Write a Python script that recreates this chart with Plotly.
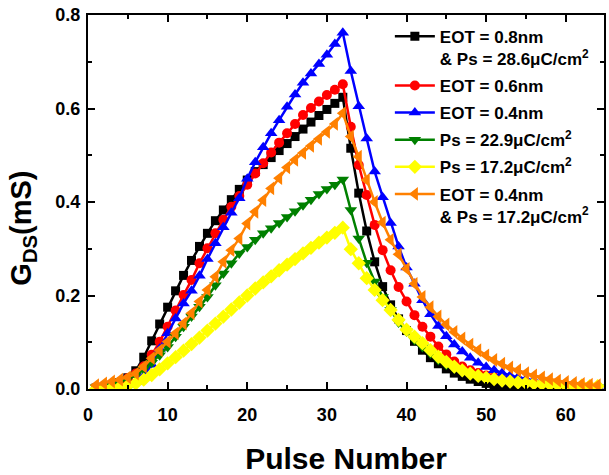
import plotly.graph_objects as go

pulses = list(range(1, 65))

eot08_ps286 = [0.002, 0.004, 0.008, 0.014, 0.024, 0.039, 0.068, 0.103, 0.139, 0.175, 0.21, 0.243,
               0.275, 0.305, 0.333, 0.36, 0.383, 0.405, 0.427, 0.447, 0.465, 0.48, 0.495, 0.51,
               0.525, 0.54, 0.556, 0.571, 0.585, 0.598, 0.611, 0.624,
               0.515, 0.419, 0.338, 0.272, 0.219, 0.18, 0.15, 0.125, 0.102, 0.083, 0.067, 0.054,
               0.043, 0.034, 0.027, 0.021, 0.016, 0.012, 0.009, 0.007, 0.005, 0.004, 0.003, 0.003,
               0.002, 0.002, 0.002, 0.001, 0.001, 0.001, 0.001, 0.001]

eot06 = [0.003, 0.005, 0.009, 0.015, 0.023, 0.033, 0.048, 0.073, 0.101, 0.133, 0.168, 0.201,
         0.233, 0.269, 0.301, 0.333, 0.362, 0.39, 0.413, 0.437, 0.461, 0.483, 0.506, 0.527,
         0.547, 0.567, 0.586, 0.601, 0.615, 0.629, 0.64, 0.652,
         0.561, 0.479, 0.415, 0.351, 0.297, 0.254, 0.218, 0.187, 0.158, 0.133, 0.112, 0.091,
         0.074, 0.059, 0.048, 0.04, 0.034, 0.029, 0.025, 0.021, 0.018, 0.016, 0.014, 0.012,
         0.011, 0.01, 0.009, 0.008, 0.007, 0.006, 0.006, 0.005]

eot04 = [0.0, 0.001, 0.002, 0.004, 0.008, 0.015, 0.028, 0.052, 0.086, 0.119, 0.151, 0.183,
         0.21, 0.242, 0.278, 0.312, 0.346, 0.377, 0.408, 0.45, 0.485, 0.517, 0.547, 0.575,
         0.604, 0.63, 0.655, 0.675, 0.695, 0.715, 0.738, 0.762,
         0.68, 0.605, 0.536, 0.465, 0.41, 0.355, 0.305, 0.26, 0.225, 0.19, 0.16, 0.135,
         0.113, 0.095, 0.08, 0.067, 0.056, 0.047, 0.04, 0.034, 0.029, 0.025, 0.021, 0.018,
         0.016, 0.014, 0.012, 0.011, 0.01, 0.009, 0.008, 0.007]

ps229 = [0.004, 0.007, 0.011, 0.016, 0.022, 0.03, 0.042, 0.056, 0.072, 0.09, 0.112, 0.133,
         0.155, 0.176, 0.197, 0.222, 0.247, 0.269, 0.29, 0.304, 0.319, 0.333, 0.344, 0.355,
         0.368, 0.38, 0.393, 0.405, 0.417, 0.428, 0.437, 0.448,
         0.383, 0.322, 0.27, 0.23, 0.197, 0.169, 0.142, 0.123, 0.105, 0.09, 0.076, 0.062,
         0.052, 0.044, 0.037, 0.031, 0.027, 0.023, 0.02, 0.017, 0.015, 0.013, 0.011, 0.01,
         0.009, 0.008, 0.007, 0.006, 0.006, 0.005, 0.005, 0.004]

ps172 = [0.0, 0.001, 0.002, 0.004, 0.007, 0.012, 0.02, 0.03, 0.042, 0.055, 0.068, 0.082,
         0.096, 0.11, 0.125, 0.14, 0.155, 0.17, 0.185, 0.2, 0.215, 0.228, 0.241, 0.254,
         0.266, 0.278, 0.29, 0.302, 0.313, 0.324, 0.334, 0.345,
         0.299, 0.269, 0.237, 0.212, 0.19, 0.169, 0.148, 0.127, 0.112, 0.098, 0.083, 0.069,
         0.058, 0.048, 0.04, 0.033, 0.028, 0.024, 0.021, 0.018, 0.016, 0.014, 0.013, 0.012,
         0.011, 0.01, 0.009, 0.008, 0.007, 0.007, 0.006, 0.006]

eot04_ps172 = [0.008, 0.012, 0.016, 0.02, 0.025, 0.033, 0.048, 0.066, 0.083, 0.101, 0.119, 0.14,
               0.162, 0.187, 0.212, 0.24, 0.272, 0.297, 0.322, 0.354, 0.379, 0.404, 0.429, 0.451,
               0.474, 0.49, 0.505, 0.52, 0.535, 0.55, 0.567, 0.59,
               0.54, 0.497, 0.447, 0.4, 0.356, 0.319, 0.288, 0.257, 0.225, 0.197, 0.175, 0.155,
               0.138, 0.122, 0.108, 0.095, 0.083, 0.072, 0.062, 0.054, 0.046, 0.04, 0.034, 0.029,
               0.025, 0.021, 0.018, 0.015, 0.013, 0.011, 0.009, 0.008]

series = [
    ("EOT = 0.8nm<br>& Ps = 28.6μC/cm<sup>2</sup>", eot08_ps286, "black", "square", 9),
    ("EOT = 0.6nm", eot06, "red", "circle", 10),
    ("EOT = 0.4nm", eot04, "blue", "triangle-up", 11),
    ("Ps = 22.9μC/cm<sup>2</sup>", ps229, "green", "triangle-down", 11),
    ("Ps = 17.2μC/cm<sup>2</sup>", ps172, "yellow", "diamond", 11),
    ("EOT = 0.4nm<br>& Ps = 17.2μC/cm<sup>2</sup>", eot04_ps172, "#FF8000", "triangle-left", 12),
]

FONT = "Liberation Sans, Arial, sans-serif"

fig = go.Figure()
for i, (name, ys, color, sym, size) in enumerate(series):
    fig.add_trace(go.Scatter(
        x=pulses, y=ys, name=name, mode="lines+markers", legendgroup=f"g{i}",
        line=dict(color=color, width=2.5),
        marker=dict(symbol=sym, size=size, color=color, line=dict(width=0)),
    ))

axis_common = dict(
    showline=True, linecolor="black", linewidth=2, mirror="allticks",
    ticks="inside", ticklen=7, tickwidth=2, tickcolor="black",
    showgrid=False, zeroline=False,
    tickfont=dict(family=FONT, size=18, color="black", weight="bold"),
)

fig.update_xaxes(
    range=[0, 64.8], dtick=10, tick0=0, ticklabelstandoff=8,
    minor=dict(ticks="inside", ticklen=4, tickwidth=2, tickcolor="black", dtick=5, tick0=0),
    title=dict(text="Pulse Number", font=dict(family=FONT, size=30, color="black", weight="bold"), standoff=26),
    **axis_common,
)
fig.update_yaxes(
    range=[0, 0.8], dtick=0.2, tick0=0, tickformat=".1f", ticklabelstandoff=2,
    minor=dict(ticks="inside", ticklen=4, tickwidth=2, tickcolor="black", dtick=0.1, tick0=0),
    **axis_common,
)

fig.add_annotation(
    text="G<sub>DS</sub>(mS)", textangle=-90, showarrow=False,
    xref="paper", yref="paper", x=-0.125, y=0.43, xanchor="center", yanchor="middle",
    font=dict(family=FONT, size=29, color="black", weight="bold"),
)

fig.update_layout(
    width=609, height=475,
    margin=dict(l=88, r=3, t=15, b=86),
    paper_bgcolor="white", plot_bgcolor="white",
    showlegend=True,
    legend=dict(
        x=0.585, y=0.99, xanchor="left", yanchor="top",
        bgcolor="rgba(0,0,0,0)", borderwidth=0,
        font=dict(family=FONT, size=17, color="black", weight="bold"),
        itemwidth=40, valign="top", tracegroupgap=2,
    ),
)

fig.write_html("out.html")
